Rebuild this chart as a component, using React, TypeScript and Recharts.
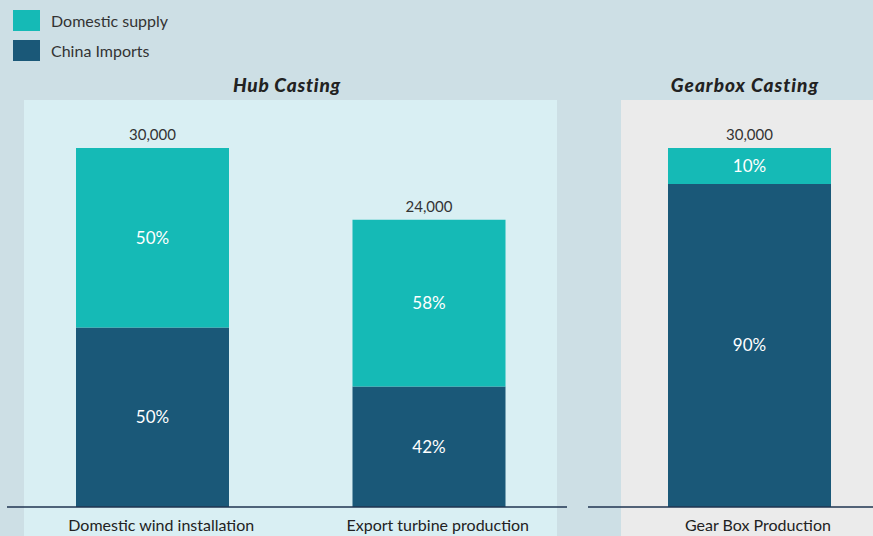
import { BarChart, Bar, XAxis, YAxis, LabelList } from "recharts";

const hubCategories = ["Domestic wind installation", "Export turbine production"];
const hubChina = [15000, 10080];
const hubDomestic = [15000, 13920];
const hubChinaPct = ["50%", "42%"];
const hubDomesticPct = ["50%", "58%"];

const gearCategories = ["Gear Box Production"];
const gearChina = [27000];
const gearDomestic = [3000];
const gearChinaPct = ["90%"];
const gearDomesticPct = ["10%"];

const TEAL = "#15bab6";
const NAVY = "#1a5878";
const FONT = "Lato, 'Open Sans', sans-serif";

const build = (
  cats: string[],
  china: number[],
  domestic: number[],
  chinaPct: string[],
  domPct: string[]
) =>
  cats.map((name, i) => ({
    name,
    china: china[i],
    domestic: domestic[i],
    chinaPct: chinaPct[i],
    domPct: domPct[i],
    total: (china[i] + domestic[i]).toLocaleString("en-US"),
  }));

const hubData = build(hubCategories, hubChina, hubDomestic, hubChinaPct, hubDomesticPct);
const gearData = build(gearCategories, gearChina, gearDomestic, gearChinaPct, gearDomesticPct);

const CatTick = (props: any) => {
  const { x, y, payload } = props;
  return (
    <text x={x} y={y} dx={9} dy={16} textAnchor="middle" fill="#222" fontSize={16} fontFamily={FONT}>
      {payload.value}
    </text>
  );
};

const Panel = ({ data, width, padLeft, barSize }: any) => (
  <BarChart
    width={width}
    height={536}
    data={data}
    margin={{ top: 148, right: 0, bottom: 0, left: 7 }}
  >
    <XAxis
      dataKey="name"
      height={29}
      padding={{ left: padLeft, right: 0 }}
      axisLine={{ stroke: "#1f3550", strokeWidth: 1.5 }}
      tickLine={false}
      tick={<CatTick />}
      interval={0}
    />
    <YAxis hide domain={[0, 30000]} />
    <Bar dataKey="china" stackId="a" fill={NAVY} barSize={barSize} isAnimationActive={false}>
      <LabelList dataKey="chinaPct" position="center" fill="#fff" fontSize={17} fontFamily={FONT} />
    </Bar>
    <Bar dataKey="domestic" stackId="a" fill={TEAL} barSize={barSize} isAnimationActive={false}>
      <LabelList dataKey="domPct" position="center" fill="#fff" fontSize={17} fontFamily={FONT} />
      <LabelList dataKey="total" position="top" offset={8} fill="#333" fontSize={15} fontFamily={FONT} />
    </Bar>
  </BarChart>
);

const titleStyle = {
  position: "absolute" as const,
  width: 240,
  top: 73,
  textAlign: "center" as const,
  fontSize: 19,
  fontWeight: 900,
  fontStyle: "italic",
  color: "#222",
};

export default function App() {
  return (
    <div
      style={{
        position: "absolute",
        left: 0,
        top: 0,
        width: 873,
        height: 536,
        background: "#cddfe5",
        fontFamily: FONT,
        overflow: "hidden",
      }}
    >
      <div style={{ position: "absolute", left: 24, top: 100, width: 533, height: 436, background: "#d9eff3" }} />
      <div style={{ position: "absolute", left: 621, top: 100, width: 252, height: 436, background: "#ebebeb" }} />

      <div style={{ position: "absolute", left: 13, top: 10, width: 27, height: 21, background: TEAL }} />
      <div style={{ position: "absolute", left: 13, top: 40, width: 27, height: 21, background: NAVY }} />
      <div style={{ position: "absolute", left: 51, top: 11, fontSize: 16, color: "#333", lineHeight: "20px" }}>
        Domestic supply
      </div>
      <div style={{ position: "absolute", left: 51, top: 41, fontSize: 16, color: "#333", lineHeight: "20px" }}>
        China Imports
      </div>

      <div style={{ ...titleStyle, left: 167, letterSpacing: 0.8 }}>Hub Casting</div>
      <div style={{ ...titleStyle, left: 625, letterSpacing: 1 }}>Gearbox Casting</div>

      <div style={{ position: "absolute", left: 0, top: 0 }}>
        <Panel data={hubData} width={567} padLeft={7} barSize={153} />
      </div>
      <div style={{ position: "absolute", left: 581, top: 0 }}>
        <Panel data={gearData} width={292} padLeft={37} barSize={163} />
      </div>
    </div>
  );
}
